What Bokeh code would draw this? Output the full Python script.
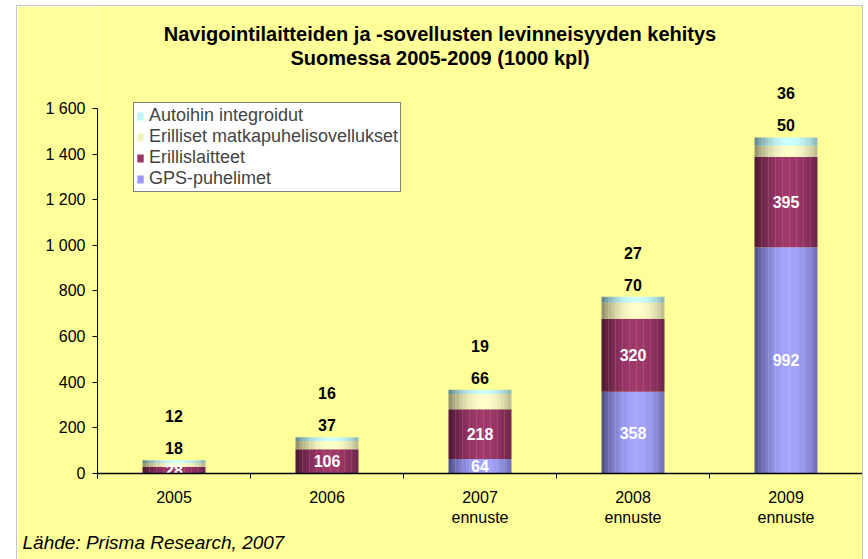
from bokeh.plotting import figure
from bokeh.models import ColumnDataSource, Range1d, FixedTicker, Legend, LegendItem, Title
from bokeh.core.properties import value
from bokeh.embed import file_html
from bokeh.resources import INLINE

# ---- data ----
years = ["2005", "2006", "2007\nennuste", "2008\nennuste", "2009\nennuste"]
gps = [0, 0, 64, 358, 992]
erillis = [28, 106, 218, 320, 395]
matka = [18, 37, 66, 70, 50]
auto = [12, 16, 19, 27, 36]
series_names = ["GPS-puhelimet", "Erillislaitteet",
                "Erilliset matkapuhelisovellukset", "Autoihin integroidut"]
y_ticks = [0, 200, 400, 600, 800, 1000, 1200, 1400, 1600]
y_tick_labels = ["0", "200", "400", "600", "800", "1 000", "1 200", "1 400", "1 600"]
title_lines = ["Navigointilaitteiden ja -sovellusten levinneisyyden kehitys",
               "Suomessa 2005-2009 (1000 kpl)"]
source_text = "Lähde: Prisma Research, 2007"

# ---- style ----
FONT = "Liberation Sans"
BG = "#FFFF99"
light = ["#A4A4FF", "#A0386C", "#FFFFCC", "#CCFFFF"]
dark = ["#4C4C86", "#4A1834", "#8C8A66", "#5C8286"]
base = ["#9999FF", "#993366", "#F2F2C0", "#BFF5F5"]
BAR_W = 0.41
NSTRIP = 18
Y_TOP = 2047

series = [gps, erillis, matka, auto]
centers = [i + 0.5 for i in range(len(years))]


def hx(c):
    return [int(c[i:i + 2], 16) for i in (1, 3, 5)]


def mix(c1, c2, f):
    a, b = hx(c1), hx(c2)
    return "#%02x%02x%02x" % tuple(int(round(a[i] + (b[i] - a[i]) * f)) for i in range(3))


p = figure(width=845, height=553, output_backend="svg", toolbar_location=None,
           x_range=Range1d(0, 5), y_range=Range1d(0, Y_TOP),
           min_border_left=80, min_border_right=0, min_border_top=0, min_border_bottom=86)
p.styles = {"margin-left": "17px", "margin-top": "6px", "outline": "1px solid #c4c4c4"}
p.background_fill_color = BG
p.border_fill_color = BG
p.outline_line_color = None
p.xgrid.visible = False
p.ygrid.visible = False

# ---- stacked bars with cylinder-like shading ----
bottoms = [0] * len(years)
for s_idx, vals in enumerate(series):
    xs, ws, tops, bots, cols = [], [], [], [], []
    for i, v in enumerate(vals):
        if v <= 0:
            continue
        for k in range(NSTRIP):
            t = (k + 0.5) / NSTRIP
            f = max(0.0, 1 - ((t - 0.56) / 0.56) ** 2)
            xs.append(centers[i] - BAR_W / 2 + t * BAR_W)
            ws.append(BAR_W / NSTRIP * 1.08)
            bots.append(bottoms[i])
            tops.append(bottoms[i] + v)
            cols.append(mix(dark[s_idx], light[s_idx], f))
    src = ColumnDataSource(dict(x=xs, w=ws, top=tops, bottom=bots, c=cols))
    p.vbar(x="x", width="w", top="top", bottom="bottom", fill_color="c",
           line_color=None, source=src)
    bottoms = [bottoms[i] + vals[i] for i in range(len(years))]

totals = bottoms

# ---- labels ----
cum = [0] * len(years)
for s_idx, vals in enumerate(series[:2]):
    lx, ly, lt = [], [], []
    for i, v in enumerate(vals):
        if v > 0:
            lx.append(centers[i])
            ly.append(cum[i] + v / 2)
            lt.append(str(v))
    p.text(x=lx, y=ly, text=lt, text_color="white", text_font=value(FONT),
           text_font_style="bold", text_font_size="16px",
           text_align="center", text_baseline="middle")
    cum = [cum[i] + vals[i] for i in range(len(years))]

p.text(x=centers, y=totals, text=[str(v) for v in matka], y_offset=-12,
       text_color="black", text_font=value(FONT), text_font_style="bold",
       text_font_size="16px", text_align="center", text_baseline="middle")
p.text(x=centers, y=totals, text=[str(v) for v in auto], y_offset=-44,
       text_color="black", text_font=value(FONT), text_font_style="bold",
       text_font_size="16px", text_align="center", text_baseline="middle")

# ---- title (inside frame, above the axis extent) ----
p.text(x=[2.5, 2.5], y=[Y_TOP, Y_TOP], text=title_lines, x_offset=-40,
       y_offset=[27, 51], text_color="black", text_font=value(FONT),
       text_font_style="bold", text_font_size="20px",
       text_align="center", text_baseline="middle")

# ---- axes ----
xa = p.xaxis[0]
xa.ticker = FixedTicker(ticks=centers, minor_ticks=[0, 1, 2, 3, 4, 5])
xa.major_label_overrides = {c: y for c, y in zip(centers, years)}
xa.major_tick_in = 0
xa.major_tick_out = 0
xa.minor_tick_in = 0
xa.minor_tick_out = 5
xa.minor_tick_line_color = "black"
xa.axis_line_color = "black"
xa.axis_line_width = 1.5
xa.major_label_text_font = FONT
xa.major_label_text_font_size = "16px"
xa.major_label_text_color = "black"
xa.major_label_standoff = 10

ya = p.yaxis[0]
ya.ticker = FixedTicker(ticks=y_ticks, minor_ticks=[])
ya.major_label_overrides = {t: l for t, l in zip(y_ticks, y_tick_labels)}
ya.bounds = (0, 1600)
ya.major_tick_in = 0
ya.major_tick_out = 5
ya.major_tick_line_color = "black"
ya.axis_line_color = "black"
ya.major_label_text_font = FONT
ya.major_label_text_font_size = "16px"
ya.major_label_text_color = "black"
ya.major_label_standoff = 7

# ---- legend ----
items = []
for s_idx in [3, 2, 1, 0]:
    r = p.vbar(x=[0.5], top=[0], bottom=[0], width=0.1, fill_color=base[s_idx], line_color=None)
    items.append(LegendItem(label=series_names[s_idx], renderers=[r]))
leg = Legend(items=items, location=(36, 281))
leg.label_text_font = FONT
leg.label_text_font_size = "18px"
leg.glyph_width = 8
leg.glyph_height = 10
leg.label_height = 19
leg.spacing = 0
leg.padding = 2
leg.margin = 0
leg.label_standoff = 5
leg.border_line_color = "black"
leg.border_line_width = 1
leg.background_fill_color = "white"
leg.background_fill_alpha = 1
p.add_layout(leg, "center")

# ---- source ----
p.add_layout(Title(text=source_text, align="left", offset=-75, text_font=FONT,
                   text_font_style="italic", text_font_size="19px",
                   text_color="black", standoff=2), "below")

open("out.html", "w").write(file_html(p, INLINE))
